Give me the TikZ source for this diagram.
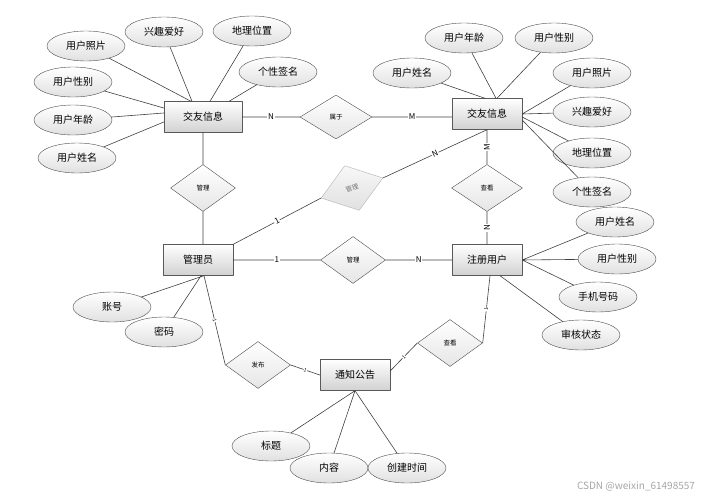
\documentclass[tikz,border=0pt]{standalone}
\usepackage{fontspec}
\setmainfont{Noto Sans CJK SC}
\usetikzlibrary{shapes.geometric}

\begin{document}
\begin{tikzpicture}[x=1pt,y=-1pt,line join=round,line cap=round,font=\fontsize{10}{12}\selectfont,
  entity/.style={draw=black!65,top color=white,bottom color=black!18,minimum width=70pt,minimum height=31pt,inner sep=0pt},
  attr/.style={ellipse,draw=black!70,top color=white,bottom color=black!12,minimum width=78pt,minimum height=30pt,inner sep=0pt},
  rel/.style={diamond,draw=black!70,top color=white,bottom color=black!10,minimum width=65pt,minimum height=47pt,inner sep=0pt,font=\fontsize{6.5}{7}\selectfont},
  grel/.style={rel,draw=black!30,top color=black!3,bottom color=black!12,text=black!55},
  lbl/.style={fill=white,inner sep=0.8pt,font=\fontsize{8}{8}\selectfont},
  tick/.style={sloped,fill=white,inner sep=0.3pt,font=\fontsize{5}{5}\selectfont},
  link/.style={draw=black!75,line width=0.6pt}]
\useasboundingbox (0,0) rectangle (716,498);
% entities and relations
\path
(203,117) node[entity,minimum width=78pt] (jyL) {交友信息}
(487,114) node[entity] (jyR) {交友信息}
(198,260) node[entity] (gly) {管理员}
(487,260) node[entity] (zcyh) {注册用户}
(355,375) node[entity] (tzgg) {通知公告}
(336,117) node[rel,minimum width=72pt,minimum height=44pt] (shuyu) {属于}
(203,188) node[rel] (glA) {管理}
(352,188) node[grel,rotate=18] (glB) {管理}
(353,260) node[rel] (glC) {管理}
(487,188) node[rel,minimum width=71pt] (ckA) {查看}
(258,365) node[rel] (fabu) {发布}
(450,343) node[rel] (ckB) {查看}
;
% attributes
\path
(86,46) node[attr] (lZp) {用户照片}
(164,32) node[attr] (lXq) {兴趣爱好}
(252,31) node[attr] (lDw) {地理位置}
(278,72) node[attr] (lGx) {个性签名}
(73,82) node[attr] (lXb) {用户性别}
(73,120) node[attr] (lNl) {用户年龄}
(77,158) node[attr] (lXm) {用户姓名}
(464,38) node[attr] (rNl) {用户年龄}
(554,38) node[attr] (rXb) {用户性别}
(412,73) node[attr] (rXm) {用户姓名}
(592,73) node[attr] (rZp) {用户照片}
(592,112) node[attr] (rXq) {兴趣爱好}
(592,153) node[attr] (rDw) {地理位置}
(592,192) node[attr] (rGx) {个性签名}
(615,222) node[attr] (zXm) {用户姓名}
(617,259) node[attr] (zXb) {用户性别}
(598,297) node[attr] (zSj) {手机号码}
(581,335) node[attr] (zSh) {审核状态}
(112,307) node[attr] (gZh) {账号}
(164,332) node[attr] (gMm) {密码}
(271,446) node[attr] (tBt) {标题}
(329,468) node[attr] (tNr) {内容}
(407,468) node[attr] (tSj) {创建时间}
(636,486) node[text=black!35,font=\fontsize{10}{10}\selectfont] (wm) {CSDN @weixin\_61498557}
;
% attribute links
\draw[link]
(lZp) -- ([xshift=-12pt]jyL.north)
(lXq) -- ([xshift=-11pt]jyL.north)
(lDw) -- ([xshift=7pt]jyL.north)
(lGx) -- ([xshift=26pt]jyL.north)
(lXb) -- ([yshift=9pt]jyL.west)
(lNl) -- ([yshift=4pt]jyL.west)
(lXm) -- ([yshift=-5pt]jyL.west)
(rXm) -- ([xshift=-2pt]jyR.north)
(rNl) -- ([xshift=9pt]jyR.north)
(rXb) -- ([xshift=10pt]jyR.north)
(rZp) -- (jyR.east)
(rXq) -- (jyR.east)
(rDw) -- ([yshift=-3pt]jyR.east)
(rGx) -- ([yshift=-6pt]jyR.east)
(zXm) -- (zcyh.east)
(zXb) -- (zcyh.east)
(zSj) -- (zcyh.east)
(zSh) -- ([xshift=13pt]zcyh.south)
(gZh) -- ([xshift=6pt]gly.south)
(gMm) -- ([xshift=3pt]gly.south)
(tBt) -- (tzgg.south)
(tNr) -- (tzgg.south)
(tSj) -- (tzgg.south)
;
% relation links
\draw[link]
(jyL.east) -- node[lbl]{N} (shuyu.west)
(shuyu.east) -- node[lbl]{M} (shuyu.east -| jyR.west)
(jyL.south) -- (glA.north)
(glA.south) -- (glA.south |- gly.north)
(gly.north east) -- node[lbl,sloped]{1} (glB.west)
(glB.east) -- node[lbl,sloped]{N} (jyR.south)
(gly.east) -- node[lbl]{1} (glC.west)
(glC.east) -- node[lbl]{N} (zcyh.west)
(jyR.south) -- node[lbl,rotate=90]{M} (ckA.north)
(ckA.south) -- node[lbl,rotate=90]{N} (zcyh.north)
([xshift=6pt]gly.south) -- node[tick]{1} (fabu.west)
(fabu.east) -- node[tick]{1} (tzgg.west)
([yshift=4pt]tzgg.east) -- node[tick]{1} (ckB.west)
(ckB.east) -- node[tick]{1} ([xshift=3pt]zcyh.south)
;
\end{tikzpicture}
\end{document}
